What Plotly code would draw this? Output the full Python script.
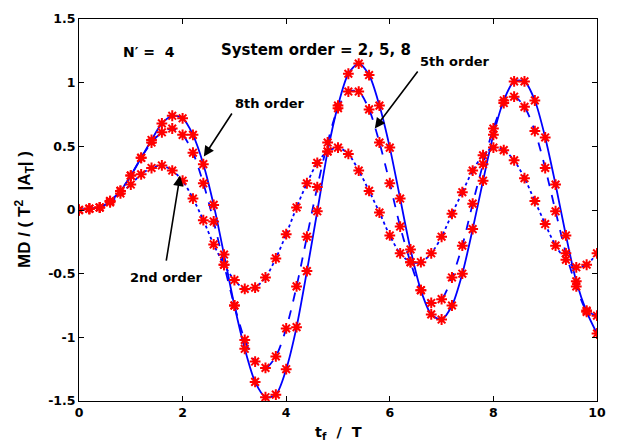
import plotly.graph_objects as go

t = [round(0.2 * i, 1) for i in range(51)]

order8 = [0, 0.01, 0.02, 0.07, 0.15, 0.27, 0.41, 0.55, 0.68, 0.74, 0.72, 0.59, 0.36, 0.04,
          -0.35, -0.75, -1.09, -1.35, -1.47, -1.45, -1.25, -0.92, -0.48, -0.01, 0.46, 0.82,
          1.07, 1.15, 1.06, 0.82, 0.49, 0.09, -0.31, -0.63, -0.82, -0.86, -0.75, -0.5, -0.15,
          0.23, 0.59, 0.86, 1.01, 1.01, 0.86, 0.57, 0.2, -0.2, -0.56, -0.8, -0.97]
order5 = [0, 0.01, 0.02, 0.07, 0.15, 0.27, 0.41, 0.53, 0.61, 0.64, 0.59, 0.45, 0.21, -0.09,
          -0.43, -0.75, -1.02, -1.19, -1.24, -1.15, -0.93, -0.6, -0.21, 0.18, 0.53, 0.8,
          0.93, 0.93, 0.79, 0.53, 0.21, -0.13, -0.41, -0.63, -0.73, -0.7, -0.53, -0.28, 0.05,
          0.36, 0.64, 0.84, 0.89, 0.81, 0.62, 0.33, -0.01, -0.34, -0.6, -0.79, -0.83]
order2 = [0, 0.01, 0.02, 0.06, 0.13, 0.2, 0.28, 0.33, 0.35, 0.31, 0.23, 0.09, -0.08, -0.27,
          -0.43, -0.55, -0.62, -0.61, -0.53, -0.38, -0.19, 0.02, 0.21, 0.37, 0.46, 0.49,
          0.44, 0.31, 0.15, -0.02, -0.2, -0.34, -0.41, -0.41, -0.34, -0.21, -0.03, 0.14, 0.31,
          0.43, 0.49, 0.47, 0.39, 0.25, 0.07, -0.11, -0.28, -0.39, -0.45, -0.43, -0.34]

series = [("8th order", order8, "solid"), ("5th order", order5, "dash"), ("2nd order", order2, "dot")]

xticks = [0, 2, 4, 6, 8, 10]
yticks = [-1.5, -1, -0.5, 0, 0.5, 1, 1.5]

WIDE = "DejaVu Sans, sans-serif"
ARIAL = "Liberation Sans, Arial, sans-serif"

fig = go.Figure()
for name, ys, dash in series:
    fig.add_trace(go.Scatter(x=t, y=ys, mode="lines", name=name,
                             line=dict(color="#0000FF", width=1.8, dash=dash, shape="spline", smoothing=0.8),
                             showlegend=False))
for name, ys, dash in series:
    fig.add_trace(go.Scatter(x=t, y=ys, mode="markers", name=name,
                             marker=dict(symbol="asterisk-open", size=9, color="#FF0000",
                                         line=dict(color="#FF0000", width=2)),
                             showlegend=False))

def ann(text, x, y, ax=None, ay=None, size=13):
    d = dict(text="<b>" + text + "</b>", x=x, y=y, xref="x", yref="y",
             font=dict(family=WIDE, size=size, color="black"))
    if ax is None:
        d.update(showarrow=False)
    else:
        d.update(showarrow=True, ax=ax, ay=ay, axref="x", ayref="y",
                 arrowhead=2, arrowsize=1.3, arrowwidth=1.6, arrowcolor="black", standoff=0)
    fig.add_annotation(**d)

ann("N′ =  4", 1.35, 1.24, size=14)
ann("System order = 2, 5, 8", 4.58, 1.26, size=15)
ann("8th order", 3.69, 0.84)
ann("", 2.41, 0.42, 2.97, 0.77)
ann("5th order", 7.26, 1.17)
ann("", 5.71, 0.64, 6.56, 1.10)
ann("2nd order", 1.68, -0.53)
ann("", 1.95, 0.27, 1.68, -0.41)

# axis titles
fig.add_annotation(text="<b>t<sub>f</sub>  /  T</b>", xref="paper", yref="paper", x=0.5, y=0,
                   yshift=-32, showarrow=False, yanchor="middle",
                   font=dict(family=WIDE, size=14.5, color="black"))
fig.add_annotation(text="<b>MD / ( T<sup>2</sup>  |A<sub>T</sub>| )</b>", xref="paper", yref="paper",
                   x=0, y=0.5, xshift=-55, textangle=-90, showarrow=False, xanchor="center",
                   font=dict(family=ARIAL, size=17, color="black"))

axis_common = dict(showgrid=False, zeroline=False, showline=True, linecolor="black", linewidth=1,
                   mirror="ticks", ticks="inside", ticklen=5, tickcolor="black", automargin=False,
                   tickfont=dict(family=WIDE, size=12.5, color="black", weight="bold"))

fig.update_xaxes(range=[0, 10], tickvals=xticks, ticktext=["<b>%g</b>" % v for v in xticks],
                 **axis_common)
fig.update_yaxes(range=[-1.5, 1.5], tickvals=yticks, ticktext=["<b>%g</b>" % v for v in yticks],
                 **axis_common)

fig.update_layout(width=617, height=443, margin=dict(l=79, r=20, t=19, b=42),
                  plot_bgcolor="white", paper_bgcolor="white")

fig.write_html("out.html")
